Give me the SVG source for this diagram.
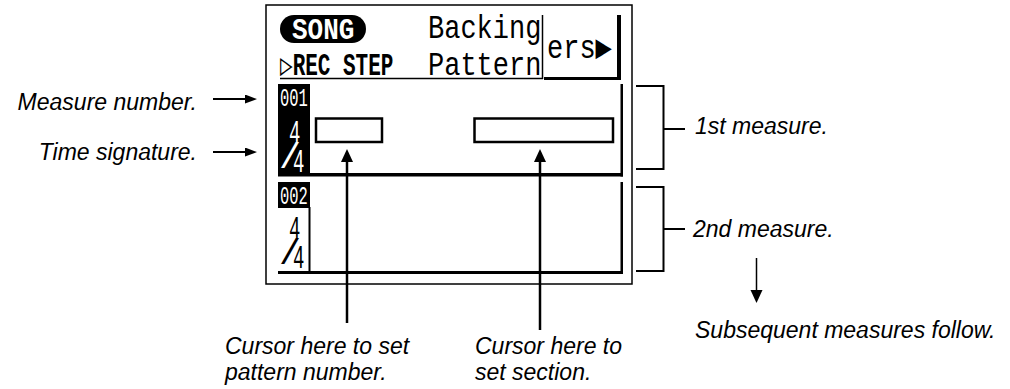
<svg xmlns="http://www.w3.org/2000/svg" width="1010" height="389" viewBox="0 0 1010 389">
<style>
.lbl{font-family:"Liberation Sans",Arial,sans-serif;font-style:italic;font-size:23px;fill:#000}
.lcd{font-family:"Liberation Mono","DejaVu Sans Mono",monospace;fill:#000}
.w{fill:#fff}
.ln{stroke:#000;fill:none}
</style>
<defs>
<marker id="ah" markerUnits="userSpaceOnUse" markerWidth="14" markerHeight="10" refX="6" refY="4.5" orient="auto"><path d="M0,0 L12,4.5 L0,9 z" fill="#000"/></marker>
<marker id="ahc" markerUnits="userSpaceOnUse" markerWidth="16" markerHeight="14" refX="6" refY="6" orient="auto"><path d="M0,0 L13,6 L0,12 z" fill="#000"/></marker>
</defs>
<rect width="1010" height="389" fill="#fff"/>
<g id="lcd">
<rect x="266" y="5" width="366" height="279" class="ln" stroke-width="1.5"/>
<g id="header">
<rect x="280" y="15" width="86" height="28" rx="14" fill="#000"/>
<text class="lcd w" font-size="26" font-weight="bold" transform="translate(292,39) scale(1,1.15)">SONG</text>
<text class="lcd" font-size="21" font-weight="bold" transform="translate(280,75) scale(1,1.45)">▷REC STEP</text>
<text class="lcd" font-size="27" transform="translate(428,37.5) scale(1,1.2)"><tspan x="0" y="0">Backing</tspan><tspan x="0" y="31.25">Pattern</tspan></text>
<text class="lcd" font-size="27" transform="translate(547,58) scale(1,1.25)">ers▶</text>
<line x1="280" y1="78.5" x2="543" y2="78.5" class="ln" stroke-width="1.5"/>
<line x1="542.5" y1="15" x2="542.5" y2="79" class="ln" stroke-width="1.5"/>
<rect x="617" y="15" width="4" height="65" fill="#000"/>
<rect x="544" y="77" width="77" height="3" fill="#000"/>
</g>
<g id="measure1">
<rect x="278" y="84" width="32" height="90" fill="#000"/>
<text class="lcd w" font-size="19" transform="translate(278,172) scale(1,1.7)"><tspan x="2" y="-38.6" font-size="15.5">001</tspan><tspan x="11" y="-17.1">4</tspan><tspan x="1" y="-2.4" font-size="21" textLength="22" lengthAdjust="spacingAndGlyphs">/</tspan><tspan x="15" y="0">4</tspan></text>
<rect x="278" y="173" width="345" height="3.5" fill="#000"/>
<rect x="620.5" y="84" width="2.5" height="92.5" fill="#000"/>
<rect x="316" y="118.5" width="66" height="23.5" class="ln" stroke-width="2.5"/>
<rect x="474.5" y="118.5" width="138.5" height="23.5" class="ln" stroke-width="2.5"/>
</g>
<g id="measure2">
<rect x="278" y="182" width="32" height="26" fill="#000"/>
<text class="lcd" font-size="19" transform="translate(278,268) scale(1,1.7)"><tspan x="2" y="-37.6" font-size="15.5" fill="#fff">002</tspan><tspan x="11" y="-17.1">4</tspan><tspan x="1" y="-2.4" font-size="21" textLength="22" lengthAdjust="spacingAndGlyphs">/</tspan><tspan x="15" y="0">4</tspan></text>
<rect x="308.5" y="207" width="2" height="66" fill="#000"/>
<rect x="278" y="271" width="345" height="3" fill="#000"/>
<rect x="620.5" y="182" width="2.5" height="92" fill="#000"/>
</g>
</g>
<g id="labels">
<text class="lbl" x="197" y="110" text-anchor="end">Measure number.</text>
<text class="lbl" x="197" y="160" text-anchor="end">Time signature.</text>
<text class="lbl" x="695" y="134">1st measure.</text>
<text class="lbl" x="693" y="237">2nd measure.</text>
<text class="lbl" x="695" y="338">Subsequent measures follow.</text>
<text class="lbl" x="225" y="354">Cursor here to set</text>
<text class="lbl" x="225" y="380">pattern number.</text>
<text class="lbl" x="475" y="354">Cursor here to</text>
<text class="lbl" x="475" y="380">set section.</text>
</g>
<g id="connectors">
<line x1="213" y1="99" x2="251" y2="99" class="ln" stroke-width="2" marker-end="url(#ah)"/>
<line x1="213" y1="152" x2="251" y2="152" class="ln" stroke-width="2" marker-end="url(#ah)"/>
<line x1="347" y1="323" x2="347" y2="156" class="ln" stroke-width="2.5" marker-end="url(#ahc)"/>
<line x1="540" y1="330" x2="540" y2="156" class="ln" stroke-width="2.5" marker-end="url(#ahc)"/>
<line x1="756.5" y1="258" x2="756.5" y2="296" class="ln" stroke-width="1.5" marker-end="url(#ahc)"/>
<path d="M636,86 H663.5 V169 H636 M663.5,129 H685" class="ln" stroke-width="2"/>
<path d="M636,187 H663.5 V271 H636 M663.5,229 H685" class="ln" stroke-width="2"/>
</g>
</svg>
